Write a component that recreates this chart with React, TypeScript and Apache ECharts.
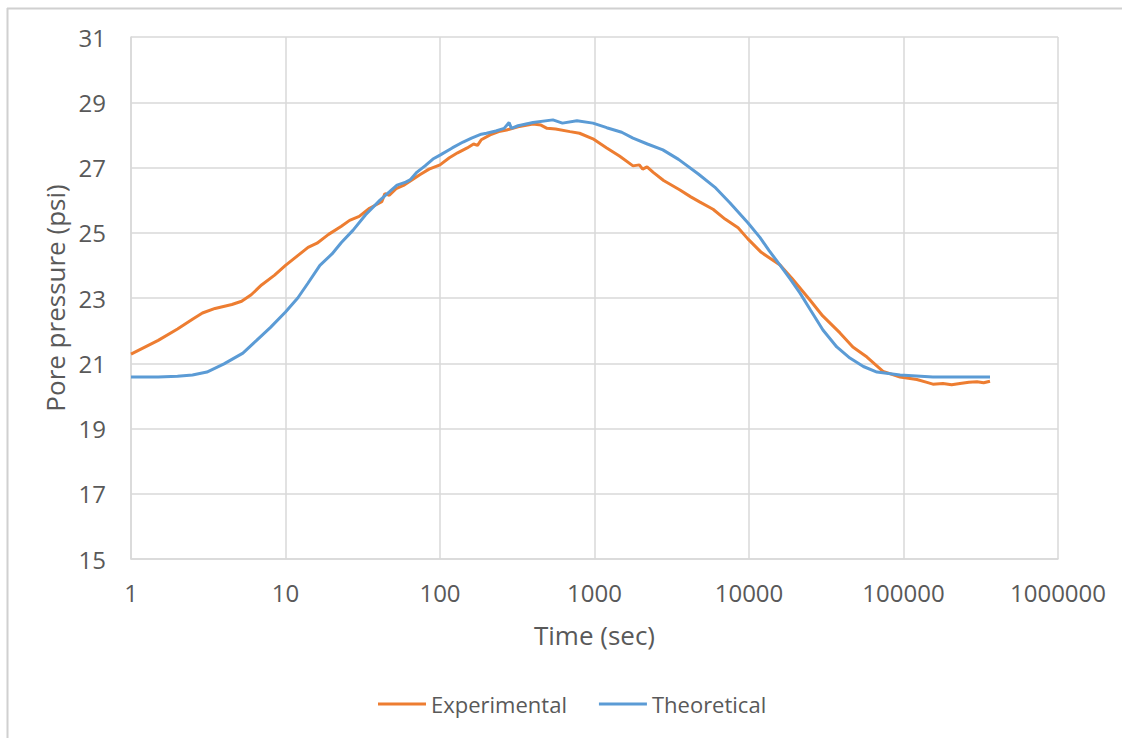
import React, { useEffect, useRef } from "react";
import * as echarts from "echarts";

const xTickLabels = ["1", "10", "100", "1000", "10000", "100000", "1000000"];
const yTickLabels = ["15", "17", "19", "21", "23", "25", "27", "29", "31"];

const expTime = [
  1, 1.5, 2, 2.5, 2.9, 3.5, 4.5, 5.2, 6, 7, 8.5, 10, 12, 14, 16, 19, 23, 26, 30, 35, 42, 44, 47, 52, 58, 65, 74, 85,
  100, 115, 130, 150, 165, 175, 185, 211, 240, 270, 320, 400, 450, 493, 560, 694, 800, 977, 1200, 1450, 1775, 1950,
  2050, 2188, 2400, 2800, 3575, 4200, 4820, 5850, 7000, 8500, 9800, 12000, 15880, 19000, 24800, 30000, 38800, 47000,
  58000, 73700, 94900, 122000, 140000, 155000, 180000, 205000, 232000, 265000, 299000, 330000, 363000,
];
const expPressure = [
  21.28, 21.7, 22.05, 22.35, 22.54, 22.68, 22.8, 22.9, 23.1, 23.4, 23.7, 24.0, 24.3, 24.55, 24.68, 24.95, 25.2, 25.38,
  25.5, 25.75, 25.95, 26.2, 26.15, 26.35, 26.45, 26.6, 26.78, 26.95, 27.08, 27.3, 27.45, 27.6, 27.72, 27.68, 27.85,
  28.0, 28.1, 28.15, 28.25, 28.33, 28.3, 28.2, 28.18, 28.1, 28.05, 27.88, 27.6, 27.35, 27.05, 27.08, 26.95, 27.02,
  26.85, 26.6, 26.31, 26.1, 25.94, 25.72, 25.42, 25.15, 24.82, 24.4, 24.01, 23.6, 22.94, 22.45, 21.93, 21.5, 21.19,
  20.75, 20.58, 20.5, 20.42, 20.36, 20.38, 20.34, 20.38, 20.42, 20.43, 20.4, 20.45,
];

const theoTime = [
  1, 1.5, 2, 2.5, 3.1, 4, 5.3, 6.5, 8, 10, 12, 14, 16.7, 20, 23, 27.4, 33, 40.9, 47, 52.7, 60, 64, 71, 80, 90, 100, 120,
  141, 160, 185, 200, 230, 260, 280, 290, 320, 400, 538, 620, 770, 977, 1200, 1500, 1775, 2200, 2770, 3500, 4700, 6000,
  7540, 9860, 11800, 13500, 15880, 18500, 21400, 25000, 30100, 37000, 45000, 55000, 67300, 95000, 155000, 250000, 363000,
];
const theoPressure = [
  20.58, 20.58, 20.6, 20.64, 20.73, 20.98, 21.31, 21.7, 22.1, 22.57, 23.0, 23.46, 24.0, 24.35, 24.7, 25.08, 25.55, 26.0,
  26.25, 26.46, 26.55, 26.62, 26.86, 27.05, 27.26, 27.38, 27.6, 27.78, 27.9, 28.02, 28.05, 28.12, 28.2, 28.38, 28.2,
  28.28, 28.38, 28.46, 28.36, 28.43, 28.36, 28.22, 28.08, 27.9, 27.72, 27.54, 27.25, 26.8, 26.4, 25.91, 25.3, 24.85,
  24.45, 24.01, 23.58, 23.15, 22.63, 22.02, 21.5, 21.16, 20.9, 20.73, 20.64, 20.58, 20.58, 20.58,
];

const seriesNames = ["Experimental", "Theoretical"];
const FONT = "'Open Sans', 'Noto Sans', sans-serif";
const TEXT_COLOR = "#595959";
const GRID_COLOR = "#d9d9d9";

export default function App() {
  const ref = useRef<HTMLDivElement>(null);

  useEffect(() => {
    document.body.style.margin = "0";
    if (!ref.current) return;
    const chart = echarts.init(ref.current, null, { renderer: "svg" });
    const yMin = Number(yTickLabels[0]);
    const yMax = Number(yTickLabels[yTickLabels.length - 1]);
    chart.setOption({
      animation: false,
      backgroundColor: "#ffffff",
      textStyle: { fontFamily: FONT },
      graphic: [
        { type: "line", shape: { x1: 7.5, y1: 8, x2: 7.5, y2: 738 }, style: { stroke: "#d0d0d0", lineWidth: 2 } },
        { type: "line", shape: { x1: 7, y1: 8.5, x2: 1122, y2: 8.5 }, style: { stroke: "#d0d0d0", lineWidth: 2 } },
      ],
      grid: { left: 131, top: 37, right: 64, bottom: 179, containLabel: false },
      legend: {
        left: 373,
        top: 688,
        icon: "rect",
        itemWidth: 48,
        itemHeight: 3,
        itemGap: 32,
        textStyle: { fontFamily: FONT, fontSize: 22, color: TEXT_COLOR },
        data: seriesNames,
      },
      xAxis: {
        type: "log",
        logBase: 10,
        min: Number(xTickLabels[0]),
        max: Number(xTickLabels[xTickLabels.length - 1]),
        name: "Time (sec)",
        nameLocation: "middle",
        nameGap: 63,
        nameTextStyle: { fontFamily: FONT, fontSize: 26, color: TEXT_COLOR },
        axisLine: { show: true, lineStyle: { color: GRID_COLOR, width: 1.5 } },
        axisTick: { show: false },
        minorTick: { show: false },
        axisLabel: {
          fontFamily: FONT,
          fontSize: 24,
          color: TEXT_COLOR,
          margin: 21,
          formatter: (v: number) => String(Math.round(v)),
        },
        splitLine: { show: true, lineStyle: { color: GRID_COLOR, width: 1.5 } },
      },
      yAxis: [
        {
          type: "value",
          min: yMin,
          max: yMax,
          show: false,
          splitLine: { show: false },
        },
        {
          type: "value",
          min: 0,
          max: yMax - yMin,
          interval: 2,
          position: "left",
          name: "Pore pressure (psi)",
          nameLocation: "middle",
          nameGap: 60,
          nameTextStyle: { fontFamily: FONT, fontSize: 26, color: TEXT_COLOR },
          axisLine: { show: true, lineStyle: { color: GRID_COLOR, width: 1.5 } },
          axisTick: { show: false },
          axisLabel: {
            fontFamily: FONT,
            fontSize: 24,
            color: TEXT_COLOR,
            margin: 25,
            formatter: (v: number) => String(Math.round(v + yMin)),
          },
          splitLine: { show: true, lineStyle: { color: GRID_COLOR, width: 1.5 } },
        },
      ],
      series: [
        {
          name: seriesNames[0],
          type: "line",
          yAxisIndex: 0,
          showSymbol: false,
          symbol: "none",
          color: "#ED7D31",
          lineStyle: { color: "#ED7D31", width: 3 },
          data: expTime.map((t, i) => [t, expPressure[i]]),
          z: 3,
        },
        {
          name: seriesNames[1],
          type: "line",
          yAxisIndex: 0,
          showSymbol: false,
          symbol: "none",
          color: "#5B9BD5",
          lineStyle: { color: "#5B9BD5", width: 3 },
          data: theoTime.map((t, i) => [t, theoPressure[i]]),
          z: 4,
        },
      ],
    });
    return () => chart.dispose();
  }, []);

  return <div ref={ref} style={{ width: 1122, height: 738 }} />;
}
